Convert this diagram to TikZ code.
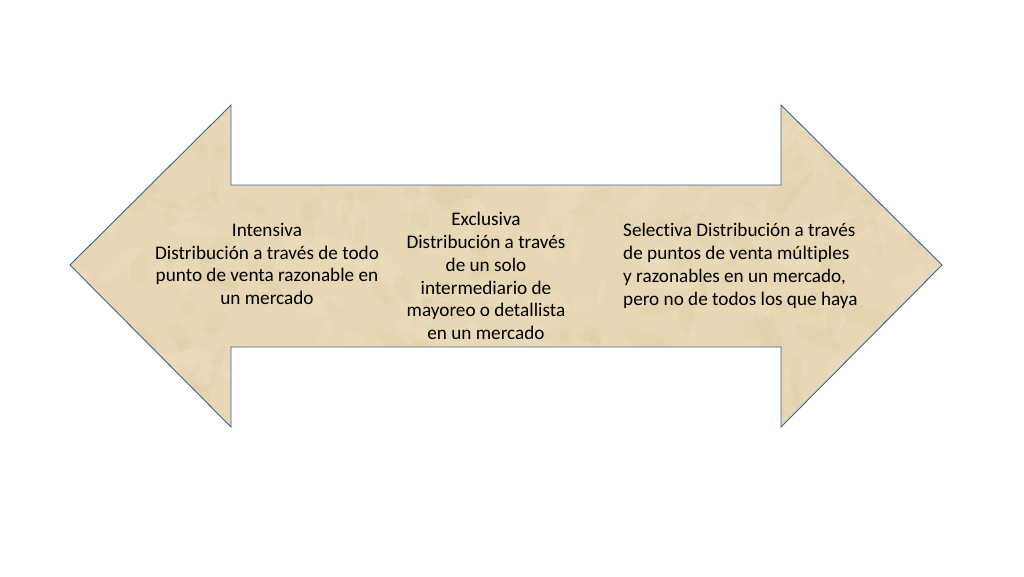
\documentclass[tikz,border=0pt]{standalone}
\usepackage{fontspec}
\setmainfont[Ligatures={NoCommon}]{Carlito}
\definecolor{parch}{HTML}{E7D7B4}
\definecolor{parchdark}{HTML}{D5BF96}
\definecolor{parchlight}{HTML}{F3E9D3}
\definecolor{edgeblue}{HTML}{3F5F9A}
\begin{document}
\begin{tikzpicture}[x=1pt,y=-1pt,
  arrowshape/.style={draw=edgeblue,line width=0.9pt,line join=miter},
  label/.style={font=\fontsize{19.2}{22.8}\selectfont,text=black,inner sep=0pt},
  centerlabel/.style={label,align=center},
  leftlabel/.style={label,align=left,anchor=west}]
\useasboundingbox (0,0) rectangle (1024,576);
\coordinate (ltip) at (70,265);
\coordinate (rtip) at (942,265);
\path[fill=parch]
  (ltip) -- (231,105) -- (231,185) -- (781,185) -- (781,105) -- (rtip)
  -- (781,427) -- (781,347) -- (231,347) -- (231,427) -- cycle;
% parchment texture
\begin{scope}
\clip (ltip) -- (231,105) -- (231,185) -- (781,185) -- (781,105) -- (rtip)
  -- (781,427) -- (781,347) -- (231,347) -- (231,427) -- cycle;
\pgfmathsetseed{7}
\foreach \i in {1,...,160}{
  \pgfmathsetmacro{\px}{70+872*rnd}
  \pgfmathsetmacro{\py}{105+322*rnd}
  \pgfmathsetmacro{\rx}{6+22*rnd}
  \pgfmathsetmacro{\ry}{3+8*rnd}
  \pgfmathsetmacro{\ang}{360*rnd}
  \fill[parchdark,opacity=0.14,rotate around={\ang:(\px,\py)}] (\px,\py) ellipse [x radius=\rx, y radius=\ry];
}
\foreach \i in {1,...,160}{
  \pgfmathsetmacro{\px}{70+872*rnd}
  \pgfmathsetmacro{\py}{105+322*rnd}
  \pgfmathsetmacro{\rx}{6+22*rnd}
  \pgfmathsetmacro{\ry}{3+8*rnd}
  \pgfmathsetmacro{\ang}{360*rnd}
  \fill[parchlight,opacity=0.18,rotate around={\ang:(\px,\py)}] (\px,\py) ellipse [x radius=\rx, y radius=\ry];
}
\end{scope}
\draw[arrowshape]
  (ltip) -- (231,105) -- (231,185) -- (781,185) -- (781,105) -- (rtip)
  -- (781,427) -- (781,347) -- (231,347) -- (231,427) -- cycle;
% texts
\node[centerlabel] (intensiva) at (267,264) {Intensiva\\Distribución a través de todo\\punto de venta razonable en\\un mercado};
\node[centerlabel] (exclusiva) at (486,276) {Exclusiva\\Distribución a través\\de un solo\\intermediario de\\mayoreo o detallista\\en un mercado};
\node[leftlabel] (selectiva) at (623,266) {Selectiva Distribución a través\\de puntos de venta múltiples\\y razonables en un mercado,\\pero no de todos los que haya};
\end{tikzpicture}
\end{document}
